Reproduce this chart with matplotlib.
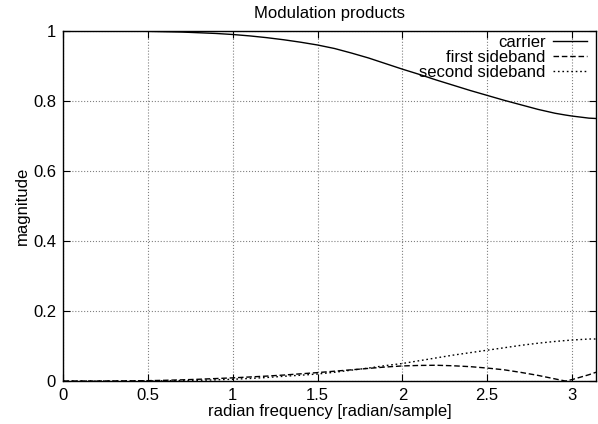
import numpy as np
import matplotlib
matplotlib.use('Agg')
import matplotlib.pyplot as plt

plt.rcParams['font.family'] = ['Liberation Sans', 'DejaVu Sans']
plt.rcParams['font.size'] = 12

# radian frequency samples
w = [0.0, 0.1, 0.2, 0.3, 0.4, 0.5, 0.6, 0.7, 0.8, 0.9,
     1.0, 1.1, 1.2, 1.3, 1.4, 1.5, 1.6, 1.7, 1.8, 1.9,
     2.0, 2.1, 2.2, 2.3, 2.4, 2.5, 2.6, 2.7, 2.8, 2.9,
     2.96, 3.0, 3.1, 3.1416]
carrier = [1.0, 1.0, 1.0, 1.0, 0.9995, 0.999, 0.998, 0.997, 0.995, 0.993,
           0.990, 0.986, 0.981, 0.975, 0.968, 0.960, 0.950, 0.937, 0.923, 0.907,
           0.891, 0.876, 0.860, 0.845, 0.830, 0.816, 0.802, 0.789, 0.776, 0.765,
           0.760, 0.757, 0.751, 0.750]
first_sb = [0.0, 0.0, 0.0, 0.0002, 0.0005, 0.001, 0.002, 0.0033, 0.005, 0.007,
            0.009, 0.0115, 0.014, 0.017, 0.0205, 0.024, 0.028, 0.032, 0.036, 0.040,
            0.043, 0.0445, 0.045, 0.0435, 0.041, 0.037, 0.032, 0.0245, 0.016, 0.006,
            0.0, 0.004, 0.018, 0.025]
second_sb = [0.0, 0.0, 0.0, 0.0, 0.0001, 0.0003, 0.0006, 0.0012, 0.002, 0.0033,
             0.005, 0.0073, 0.010, 0.0135, 0.0165, 0.020, 0.025, 0.031, 0.037, 0.044,
             0.050, 0.058, 0.066, 0.074, 0.081, 0.088, 0.095, 0.102, 0.108, 0.113,
             0.1155, 0.117, 0.120, 0.120]

fig = plt.figure(figsize=(5.98, 4.24), dpi=100)
ax = fig.add_axes([0.1054, 0.1014, 0.8913, 0.8255])

ax.plot(w, carrier, color='black', lw=1.0, label='carrier')
ax.plot(w, first_sb, color='black', lw=1.0, ls=(0, (4, 2)), label='first sideband')
ax.plot(w, second_sb, color='black', lw=1.0, ls=(0, (1.2, 2)), label='second sideband')

ax.set_xlim(0, np.pi)
ax.set_ylim(0, 1)
ax.set_xticks([0, 0.5, 1, 1.5, 2, 2.5, 3])
ax.set_xticklabels(['0', '0.5', '1', '1.5', '2', '2.5', '3'])
ax.set_yticks([0, 0.2, 0.4, 0.6, 0.8, 1])
ax.set_yticklabels(['0', '0.2', '0.4', '0.6', '0.8', '1'])
ax.tick_params(direction='in', top=True, right=True, length=5, width=0.8, pad=5)
ax.grid(True, color='gray', ls=':', lw=0.8)
for s in ax.spines.values():
    s.set_linewidth(1.0)

ax.set_title('Modulation products', fontsize=12, pad=9)
ax.set_xlabel('radian frequency [radian/sample]', labelpad=1)
ax.set_ylabel('magnitude', labelpad=2)

leg = ax.legend(loc='upper right', bbox_to_anchor=(0.99, 1.0), frameon=False,
                markerfirst=False, handlelength=2.0, handletextpad=0.45,
                labelspacing=0.0, borderaxespad=0.1, borderpad=0.15)

fig.savefig('out.png', dpi=100)
